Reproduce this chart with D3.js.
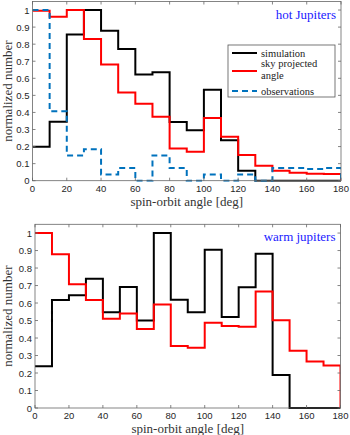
<!DOCTYPE html>
<html>
<head>
<meta charset="utf-8">
<script src="https://cdn.jsdelivr.net/npm/d3@7"></script>
<style>
  body { margin: 0; background: #fff; }
  svg { display: block; }
  .tick-label { font-family: "Liberation Sans", Arial, sans-serif; font-size: 9.5px; fill: #262626; }
  .axis-title { font-family: "Liberation Serif", "Times New Roman", serif; font-size: 13px; fill: #333; }
  .legend-text { font-family: "Liberation Serif", "Times New Roman", serif; font-size: 10.5px; fill: #222; }
  .panel-title { font-family: "Liberation Serif", "Times New Roman", serif; font-size: 13px; fill: #1a1aff; }
</style>
</head>
<body>
<div id="chart"></div>
<script>
// bin edges (deg) and tick values
const angleEdges = [0, 10, 20, 30, 40, 50, 60, 70, 80, 90, 100, 110, 120, 130, 140, 150, 160, 170, 180];
const xTicks = [0, 20, 40, 60, 80, 100, 120, 140, 160, 180];
const yTicks = [0, 0.1, 0.2, 0.3, 0.4, 0.5, 0.6, 0.7, 0.8, 0.9, 1];
const yTickLabels = ["0", "0.1", "0.2", "0.3", "0.4", "0.5", "0.6", "0.7", "0.8", "0.9", "1"];

// hot Jupiters (one value per 10 deg bin)
const hotSimulation = [0.199, 0.346, 0.856, 1.0, 0.879, 0.772, 0.623, 0.636, 0.344, 0.296, 0.533, 0.237, 0.058, 0, 0, 0, 0, 0];
const hotSkyProjected = [0.996, 0.961, 1.0, 0.831, 0.681, 0.517, 0.451, 0.374, 0.189, 0.169, 0.368, 0.257, 0.15, 0.088, 0.058, 0.047, 0.041, 0.039];
const hotObservations = [1.0, 0.407, 0.148, 0.185, 0.037, 0.074, 0, 0.148, 0.074, 0, 0.037, 0, 0.037, 0, 0.074, 0.074, 0.068, 0.074];

// warm jupiters
const warmSimulation = [0.238, 0.617, 0.644, 0.739, 0.548, 0.692, 0.5, 1.0, 0.619, 0.548, 0.905, 0.52, 0.69, 0.882, 0.188, 0, 0, 0];
const warmSkyProjected = [1.0, 0.879, 0.707, 0.617, 0.51, 0.54, 0.452, 0.592, 0.355, 0.345, 0.487, 0.468, 0.465, 0.666, 0.502, 0.327, 0.266, 0.243];

const legendLabels = [["simulation"], ["sky projected", "angle"], ["observations"]];

const W = 350, H = 435;
const svg = d3.select("#chart").append("svg")
  .attr("width", W)
  .attr("height", H);

// turn a list of bin heights into a stair outline, ending with a drop to 0
function stairPoints(values) {
  const pts = [];
  values.forEach((v, i) => {
    pts.push([angleEdges[i], v]);
    pts.push([angleEdges[i + 1], v]);
  });
  pts.push([angleEdges[angleEdges.length - 1], 0]);
  return pts;
}

function drawPanel(opts) {
  const x = d3.scaleLinear().domain([0, 180]).range([opts.left, opts.right]);
  const y = d3.scaleLinear().domain([0, 1.05]).range([opts.bottom, opts.top]);
  const g = svg.append("g");

  // white background of axes
  g.append("rect")
    .attr("x", opts.left).attr("y", opts.top)
    .attr("width", opts.right - opts.left).attr("height", opts.bottom - opts.top)
    .attr("fill", "#fff");

  const line = d3.line().x(d => x(d[0])).y(d => y(d[1]));

  // clip so lines don't bleed past the box
  const clipId = "clip-" + opts.name;
  svg.append("clipPath").attr("id", clipId)
    .append("rect")
    .attr("x", opts.left).attr("y", opts.top - 1)
    .attr("width", opts.right - opts.left).attr("height", opts.bottom - opts.top + 2);

  const lines = g.append("g").attr("clip-path", `url(#${clipId})`);
  opts.series.forEach(s => {
    lines.append("path")
      .datum(stairPoints(s.values))
      .attr("d", line)
      .attr("fill", "none")
      .attr("stroke", s.color)
      .attr("stroke-width", 2)
      .attr("stroke-linejoin", "miter")
      .attr("stroke-dasharray", s.dash || null);
  });

  // frame
  g.append("rect")
    .attr("x", opts.left).attr("y", opts.top)
    .attr("width", opts.right - opts.left).attr("height", opts.bottom - opts.top)
    .attr("fill", "none")
    .attr("stroke", "#666")
    .attr("stroke-width", 0.8);

  // inward ticks on all four sides
  const tl = 3;
  xTicks.forEach(t => {
    g.append("line").attr("x1", x(t)).attr("x2", x(t))
      .attr("y1", opts.bottom).attr("y2", opts.bottom - tl)
      .attr("stroke", "#666").attr("stroke-width", 0.8);
    g.append("line").attr("x1", x(t)).attr("x2", x(t))
      .attr("y1", opts.top).attr("y2", opts.top + tl)
      .attr("stroke", "#666").attr("stroke-width", 0.8);
    g.append("text").attr("class", "tick-label")
      .attr("x", x(t)).attr("y", opts.bottom + 11)
      .attr("text-anchor", "middle")
      .text(t);
  });
  yTicks.forEach((t, i) => {
    g.append("line").attr("x1", opts.left).attr("x2", opts.left + tl)
      .attr("y1", y(t)).attr("y2", y(t))
      .attr("stroke", "#666").attr("stroke-width", 0.8);
    g.append("line").attr("x1", opts.right).attr("x2", opts.right - tl)
      .attr("y1", y(t)).attr("y2", y(t))
      .attr("stroke", "#666").attr("stroke-width", 0.8);
    g.append("text").attr("class", "tick-label")
      .attr("x", opts.left - 3).attr("y", y(t) + 3.5)
      .attr("text-anchor", "end")
      .text(yTickLabels[i]);
  });

  // axis titles
  g.append("text").attr("class", "axis-title")
    .attr("x", (opts.left + opts.right) / 2).attr("y", opts.bottom + 25)
    .attr("text-anchor", "middle")
    .text("spin-orbit angle [deg]");
  g.append("text").attr("class", "axis-title")
    .attr("transform", `translate(12,${(opts.top + opts.bottom) / 2}) rotate(-90)`)
    .attr("text-anchor", "middle")
    .text("normalized number");

  // panel name top right
  g.append("text").attr("class", "panel-title")
    .attr("x", opts.right - 5).attr("y", opts.top + 17)
    .attr("text-anchor", "end")
    .text(opts.title);

  return { x, y, g };
}

const hot = drawPanel({
  name: "hot", left: 32.5, right: 341, top: 1.5, bottom: 180.7,
  title: "hot Jupiters",
  series: [
    { values: hotSimulation, color: "#000" },
    { values: hotSkyProjected, color: "#ff0000" },
    { values: hotObservations, color: "#0072bd", dash: "6,4" }
  ]
});

drawPanel({
  name: "warm", left: 35, right: 340.5, top: 224.3, bottom: 408,
  title: "warm jupiters",
  series: [
    { values: warmSimulation, color: "#000" },
    { values: warmSkyProjected, color: "#ff0000" }
  ]
});

// legend for the hot Jupiters panel
const legend = hot.g.append("g");
legend.append("rect")
  .attr("x", 228).attr("y", 45).attr("width", 107).attr("height", 52)
  .attr("fill", "#fff").attr("stroke", "#555").attr("stroke-width", 0.8);
const legendStyle = [
  { color: "#000", dash: null, lineY: 53 },
  { color: "#ff0000", dash: null, lineY: 71 },
  { color: "#0072bd", dash: "6,4", lineY: 91 }
];
const legendTextY = [[56.5], [66.5], [79], [94.5]];
const legendLineY = [[56.5], [66.5, 79], [94.5]];
legendStyle.forEach((s, i) => {
  legend.append("line")
    .attr("x1", 232).attr("x2", 257)
    .attr("y1", s.lineY).attr("y2", s.lineY)
    .attr("stroke", s.color).attr("stroke-width", 2)
    .attr("stroke-dasharray", s.dash);
  legendLabels[i].forEach((txt, j) => {
    legend.append("text").attr("class", "legend-text")
      .attr("x", 261).attr("y", legendLineY[i][j])
      .text(txt);
  });
});
</script>
</body>
</html>
